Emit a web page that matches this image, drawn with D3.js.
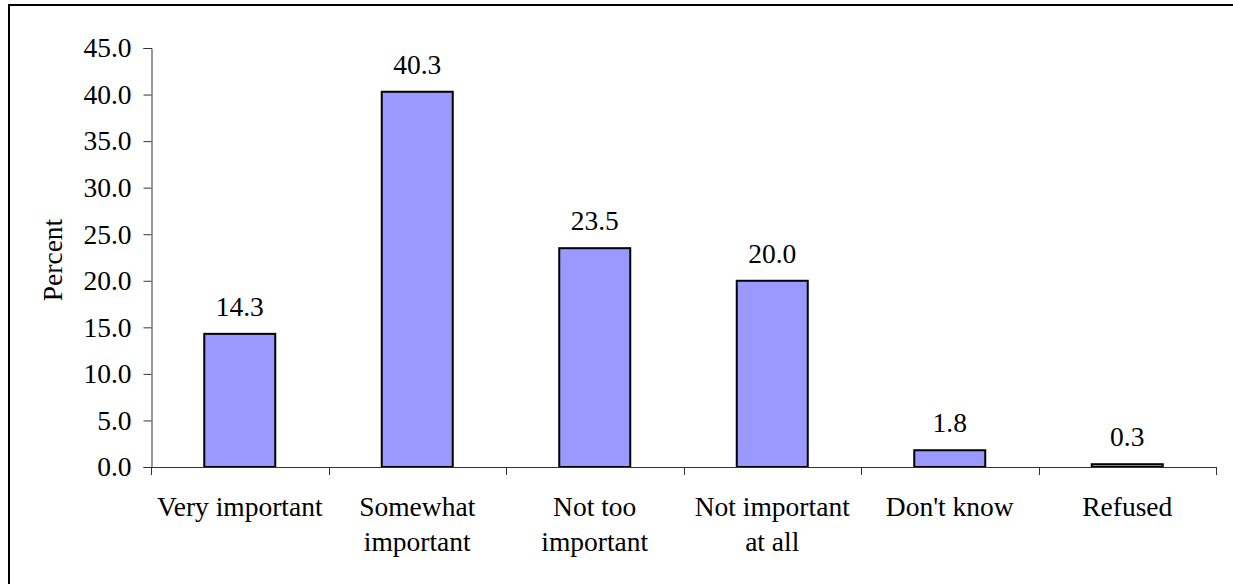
<!DOCTYPE html>
<html>
<head>
<meta charset="utf-8">
<script src="https://cdn.jsdelivr.net/npm/d3@7"></script>
<style>
  html, body { margin: 0; padding: 0; background: #fff; }
  svg { display: block; }
  text { font-family: "Liberation Serif", "Times New Roman", serif; fill: #000; }
</style>
</head>
<body>
<svg id="chart" width="1233" height="584"></svg>
<script>
// Survey responses (percent)
const categories = ["Very important", "Somewhat\nimportant", "Not too\nimportant", "Not important\nat all", "Don't know", "Refused"];
const values = [14.3, 40.3, 23.5, 20.0, 1.8, 0.3];
const yTicks = [0, 5, 10, 15, 20, 25, 30, 35, 40, 45];
const yLabel = "Percent";

const svg = d3.select("#chart");
const fontSize = 27.5;

// Outer frame
svg.append("rect")
  .attr("x", 9).attr("y", 5)
  .attr("width", 1300).attr("height", 700)
  .attr("fill", "none").attr("stroke", "#000").attr("stroke-width", 2);

const plot = { left: 151, right: 1216, top: 48, bottom: 467 };

const x = d3.scaleBand()
  .domain(categories)
  .range([plot.left, plot.right])
  .paddingInner(0.6)
  .paddingOuter(0.3);

const y = d3.scaleLinear()
  .domain([0, 45])
  .range([plot.bottom, plot.top]);

// Y axis
const yAxis = svg.append("g")
  .attr("transform", `translate(${plot.left + 0.5},0)`)
  .call(d3.axisLeft(y).tickValues(yTicks).tickFormat(d3.format(".1f")).tickSize(8).tickPadding(12));
yAxis.select(".domain").attr("stroke", "#333");
yAxis.selectAll(".tick line").attr("stroke", "#333");
yAxis.selectAll(".tick text")
  .style("font-family", '"Liberation Serif", "Times New Roman", serif')
  .style("font-size", fontSize + "px")
  .attr("fill", "#000");

// Bars
svg.append("g").selectAll("rect")
  .data(values)
  .join("rect")
  .attr("x", (d, i) => x(categories[i]))
  .attr("y", d => y(d))
  .attr("width", x.bandwidth())
  .attr("height", d => y(0) - y(d))
  .attr("fill", "#9999FF")
  .attr("stroke", "#000")
  .attr("stroke-width", 2);

// X axis line and category separators
const step = x.step();
const xStart = x.range()[0];
const xAxis = svg.append("g");
xAxis.append("line")
  .attr("x1", plot.left).attr("x2", plot.right)
  .attr("y1", y(0) + 0.5).attr("y2", y(0) + 0.5)
  .attr("stroke", "#333");
xAxis.selectAll("line.sep")
  .data(d3.range(categories.length + 1))
  .join("line")
  .attr("class", "sep")
  .attr("x1", i => Math.round(xStart + i * step) + 0.5)
  .attr("x2", i => Math.round(xStart + i * step) + 0.5)
  .attr("y1", y(0))
  .attr("y2", y(0) + 8)
  .attr("stroke", "#333");

// Category labels (multi-line)
const catLabels = svg.append("g").selectAll("text")
  .data(categories)
  .join("text")
  .attr("text-anchor", "middle")
  .style("font-size", fontSize + "px")
  .attr("x", d => x(d) + x.bandwidth() / 2)
  .attr("y", 516);
catLabels.each(function(d) {
  const t = d3.select(this);
  d.split("\n").forEach((line, k) => {
    t.append("tspan")
      .attr("x", x(d) + x.bandwidth() / 2)
      .attr("dy", k === 0 ? 0 : 35)
      .text(line);
  });
});

// Value labels
svg.append("g").selectAll("text")
  .data(values)
  .join("text")
  .attr("text-anchor", "middle")
  .style("font-size", fontSize + "px")
  .attr("x", (d, i) => x(categories[i]) + x.bandwidth() / 2)
  .attr("y", d => y(d) - 18)
  .text(d => d3.format(".1f")(d));

// Y axis title
svg.append("text")
  .attr("transform", "translate(62,260) rotate(-90)")
  .attr("text-anchor", "middle")
  .style("font-size", fontSize + "px")
  .text(yLabel);
</script>
</body>
</html>
